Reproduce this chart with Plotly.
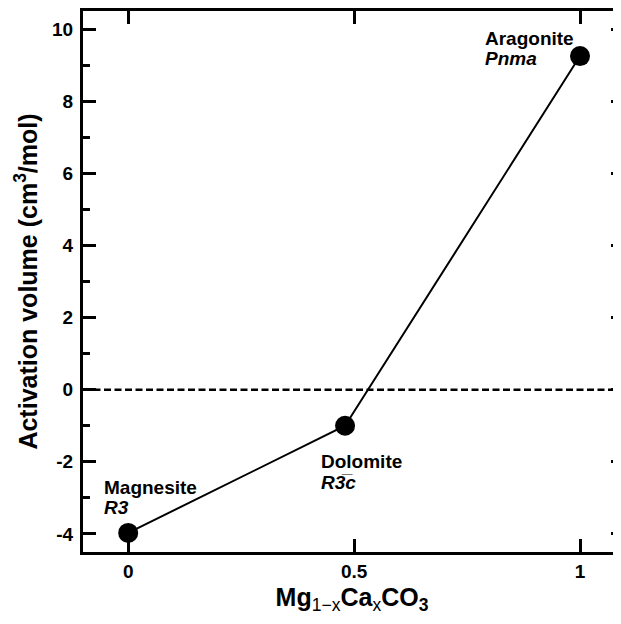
import plotly.graph_objects as go

# Data
minerals = ["Magnesite", "Dolomite", "Aragonite"]
space_groups = ["R3", "R3\u0305c", "Pnma"]
x_ca = [0.0, 0.48, 1.0]
activation_volume = [-3.97, -1.0, 9.25]

x_tickvals = [0, 0.5, 1]
x_ticktext = ["0", "0.5", "1"]
y_tickvals = [-4, -2, 0, 2, 4, 6, 8, 10]
y_ticktext = ["-4", "-2", "0", "2", "4", "6", "8", "10"]
zero_level = 0

# label offsets (data units) for annotations
label_dx = [-0.058, -0.058, -0.215]
label_dy = [1.27, -1.0, 0.5]
line_gap = 0.57

FONT = "Liberation Sans, Arial, sans-serif"

fig = go.Figure()
fig.add_trace(go.Scatter(
    x=x_ca, y=activation_volume, mode="lines+markers",
    line=dict(color="black", width=2),
    marker=dict(size=20, color="black"),
    showlegend=False, hoverinfo="skip"))
# invisible trace to activate right-side axis
fig.add_trace(go.Scatter(
    x=x_ca, y=activation_volume, mode="markers", yaxis="y2",
    marker=dict(opacity=0), showlegend=False, hoverinfo="skip"))

fig.add_shape(type="line", xref="paper", x0=0, x1=1, yref="y",
              y0=zero_level, y1=zero_level,
              line=dict(color="black", width=2.5, dash="7px,3.5px"))

for name, sg, x, y, dx, dy in zip(minerals, space_groups, x_ca, activation_volume, label_dx, label_dy):
    fig.add_annotation(x=x + dx, y=y + dy, text=f"<b>{name}</b>", showarrow=False,
                       xanchor="left", yanchor="middle",
                       font=dict(family=FONT, size=19, color="black"))
    fig.add_annotation(x=x + dx, y=y + dy - line_gap, text=f"<b><i>{sg}</i></b>", showarrow=False,
                       xanchor="left", yanchor="middle",
                       font=dict(family=FONT, size=19, color="black"))

yrange = [-4.5, 10.5]
# the page body adds an 8px offset, so the figure is sized 8px smaller
fig.update_layout(
    width=613, height=616,
    margin=dict(l=75, r=0, t=3, b=72),
    paper_bgcolor="white", plot_bgcolor="white",
    font=dict(family=FONT, color="black"),
    xaxis=dict(
        range=[-0.1, 1.0907], tickvals=x_tickvals,
        ticktext=[f"<b>{t}</b>" for t in x_ticktext],
        ticks="inside", ticklen=13, tickwidth=3, tickcolor="black",
        showline=True, linewidth=3, linecolor="black", mirror="ticks",
        showgrid=False, zeroline=False,
        tickfont=dict(family=FONT, size=19, color="black"),
        ticklabelstandoff=0,
        title=dict(text="<b>Mg</b><sub>1\u2212x</sub><b>Ca</b><sub>x</sub><b>CO<sub>3</sub></b>",
                   font=dict(family=FONT, size=25, color="black"), standoff=8),
    ),
    yaxis=dict(
        range=yrange, tickvals=y_tickvals,
        ticktext=[f"<b>{t}</b>" for t in y_ticktext],
        ticks="inside", ticklen=13, tickwidth=3, tickcolor="black",
        minor=dict(ticks="inside", dtick=1, tick0=0, ticklen=7, tickwidth=3, tickcolor="black", showgrid=False),
        showline=True, linewidth=3, linecolor="black", mirror=False,
        showgrid=False, zeroline=False,
        tickfont=dict(family=FONT, size=19, color="black"),
        ticklabelstandoff=3,
        title=dict(text="<b>Activation volume (cm<sup>3</sup>/mol)</b>",
                   font=dict(family=FONT, size=25, color="black"), standoff=8),
    ),
    yaxis2=dict(
        range=yrange, dtick=2, tick0=0, overlaying="y", side="right", anchor="x",
        ticks="inside", ticklen=10, tickwidth=3, tickcolor="black",
        minor=dict(ticks="inside", dtick=1, tick0=0, ticklen=3, tickwidth=3, tickcolor="black", showgrid=False),
        showline=False, showgrid=False, zeroline=False, showticklabels=False,
    ),
)

fig.write_html("out.html")
